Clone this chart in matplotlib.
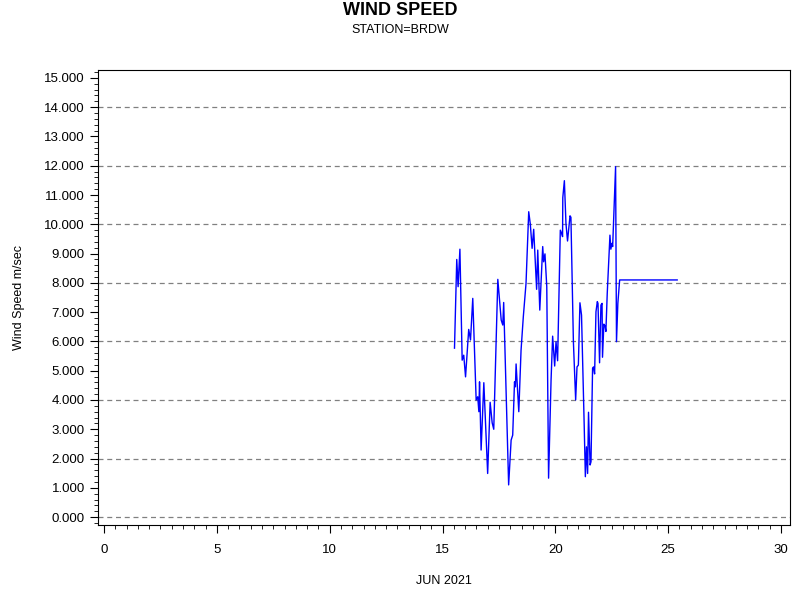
import numpy as np
import matplotlib
matplotlib.use('Agg')
import matplotlib.pyplot as plt
from matplotlib.ticker import MultipleLocator, FormatStrFormatter

plt.rcParams['font.family'] = ['Liberation Sans', 'DejaVu Sans']

# day of June 2021 and wind speed (m/sec)
days = [15.53, 15.63, 15.69, 15.77, 15.87, 15.94, 16.02, 16.16, 16.24, 16.34,
        16.49, 16.56, 16.61, 16.64, 16.71, 16.83, 17.00, 17.11, 17.20, 17.27,
        17.45, 17.60, 17.67, 17.71, 17.93, 18.04, 18.11, 18.19, 18.23, 18.26,
        18.38, 18.48, 18.58, 18.70, 18.82, 18.89, 18.97, 19.04, 19.17, 19.22,
        19.31, 19.44, 19.48, 19.54, 19.62, 19.70, 19.81, 19.88, 19.97, 20.03,
        20.10, 20.22, 20.28, 20.32, 20.33, 20.40, 20.47, 20.54, 20.65, 20.69,
        20.80, 20.90, 20.96, 21.02, 21.09, 21.16, 21.28, 21.33, 21.38, 21.43,
        21.47, 21.54, 21.58, 21.65, 21.69, 21.74, 21.80, 21.86, 21.89, 21.96,
        22.02, 22.07, 22.09, 22.15, 22.20, 22.24, 22.30, 22.42, 22.46, 22.51,
        22.54, 22.67, 22.71, 22.77, 22.85, 25.40]
speed = [5.77, 8.80, 7.87, 9.15, 5.36, 5.53, 4.79, 6.41, 6.05, 7.47,
         4.00, 4.11, 3.60, 4.62, 2.29, 4.59, 1.49, 3.92, 3.22, 3.00,
         8.12, 6.73, 6.56, 7.33, 1.10, 2.63, 2.80, 4.62, 4.45, 5.23,
         3.60, 5.70, 6.84, 7.98, 10.43, 10.01, 9.18, 9.83, 7.78, 9.12,
         7.07, 9.24, 8.72, 8.99, 7.87, 1.33, 4.68, 6.18, 5.16, 5.99,
         5.34, 9.80, 9.69, 9.58, 10.91, 11.49, 10.03, 9.43, 10.29, 10.24,
         5.99, 4.00, 5.13, 5.19, 7.32, 6.90, 3.09, 1.38, 2.40, 1.49,
         3.58, 1.78, 1.89, 5.08, 5.13, 4.89, 7.01, 7.36, 7.30, 5.27,
         7.24, 7.30, 5.46, 6.59, 6.53, 6.34, 7.64, 9.63, 9.15, 9.35,
         9.24, 11.97, 5.99, 7.30, 8.10, 8.10]

fig = plt.figure(figsize=(8, 6), dpi=100)
ax = fig.add_axes([0.1225, 0.125, 0.865, 0.7583])

ax.plot(days, speed, color='#0000ff', linewidth=1)

ax.set_xlim(-0.27, 30.4)
ax.set_ylim(-0.27, 15.27)
ax.xaxis.set_major_locator(MultipleLocator(5))
ax.xaxis.set_minor_locator(MultipleLocator(0.5))
ax.yaxis.set_major_locator(MultipleLocator(1))
ax.yaxis.set_minor_locator(MultipleLocator(0.2))
ax.yaxis.set_major_formatter(FormatStrFormatter('%.3f'))
ax.tick_params(axis='both', which='major', length=6, labelsize=9.5, direction='out')
ax.tick_params(axis='both', which='minor', length=3, direction='out')
ax.tick_params(axis='x', pad=8)

for g in range(0, 15, 2):
    ax.axhline(g, color='#808080', linestyle=(0, (4, 3)), linewidth=0.9, zorder=0)

ax.set_xlabel('JUN 2021', fontsize=9, labelpad=13)
ax.set_ylabel('Wind Speed m/sec', fontsize=9, labelpad=14)

fig.text(0.5, 0.982, 'WIND SPEED', ha='center', va='center', fontsize=13, fontweight='bold')
fig.text(0.5, 0.95, 'STATION=BRDW', ha='center', va='center', fontsize=9)

fig.savefig('out.png', dpi=100)
